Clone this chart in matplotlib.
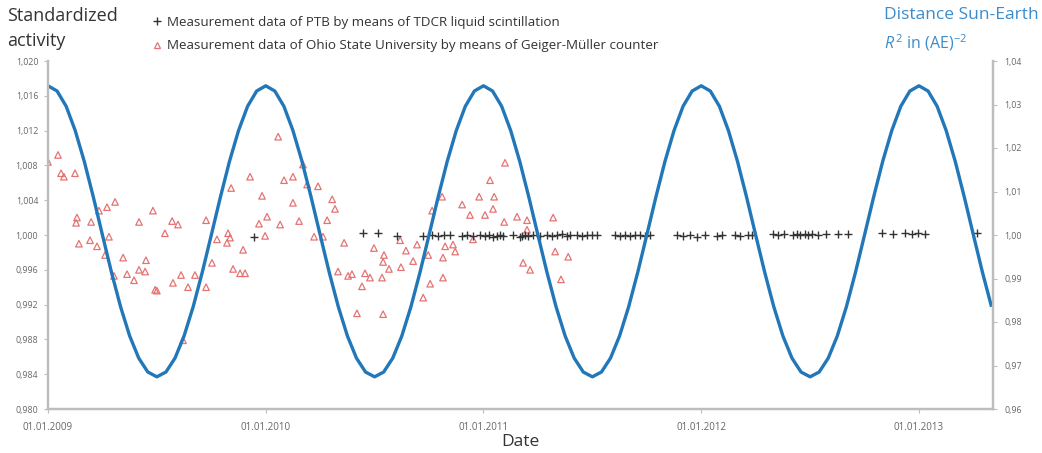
import numpy as np
import matplotlib
matplotlib.use("Agg")
import matplotlib.pyplot as plt
from matplotlib.lines import Line2D

plt.rcParams['font.family'] = ['Open Sans', 'DejaVu Sans']
plt.rcParams['mathtext.fontset'] = 'custom'
plt.rcParams['mathtext.rm'] = 'Open Sans'
plt.rcParams['mathtext.it'] = 'Open Sans:italic'

# ---------------- data ----------------
# Ohio State University, Geiger-Mueller counter (decimal year, standardized activity)
ohio_year = [2009.000, 2009.046, 2009.060, 2009.073, 2009.124, 2009.133, 2009.129, 2009.198,
             2009.142, 2009.193, 2009.225, 2009.234, 2009.271, 2009.308, 2009.280, 2009.262,
             2009.345, 2009.303, 2009.363, 2009.395, 2009.450, 2009.418, 2009.446, 2009.492,
             2009.500, 2009.482, 2009.418, 2009.537, 2009.570, 2009.597, 2009.574, 2009.611,
             2009.643, 2009.675, 2009.620, 2009.726, 2009.726,
             2010.057, 2009.928, 2009.841, 2010.084, 2010.125, 2010.190, 2010.240, 2010.171,
             2009.983, 2010.125, 2010.305, 2010.318, 2010.006, 2009.969, 2010.066, 2010.153,
             2010.282, 2009.997, 2009.827, 2009.822, 2009.836, 2009.776, 2009.896, 2009.753,
             2009.850, 2009.882, 2009.905, 2010.222, 2010.263, 2010.360, 2010.332, 2010.378,
             2010.396, 2010.456, 2010.442, 2010.419,
             2011.099, 2011.030, 2010.980, 2011.049, 2011.044, 2011.007, 2010.938, 2010.902,
             2010.810, 2010.764, 2011.095, 2011.154, 2011.200, 2011.200, 2010.497, 2010.543,
             2010.539, 2010.566, 2010.479, 2010.534, 2010.539, 2010.617, 2010.644, 2010.621,
             2010.677, 2010.695, 2010.824, 2010.860, 2010.870, 2010.814, 2010.814, 2010.755,
             2010.723, 2010.746, 2011.182, 2010.952,
             2011.320, 2011.329, 2011.389, 2011.214, 2011.356]
ohio_val = [1.0084, 1.0092, 1.0071, 1.0067, 1.0071, 1.0020, 1.0014, 1.0015,
            0.9990, 0.9994, 0.9987, 1.0028, 1.0032, 1.0038, 0.9998, 0.9977,
            0.9974, 0.9953, 0.9955, 0.9948, 0.9971, 0.9960, 0.9958, 0.9937,
            0.9936, 1.0028, 1.0015, 1.0002, 1.0016, 1.0012, 0.9945, 0.9954,
            0.9940, 0.9954, 0.9879, 1.0017, 0.9940,
            1.0113, 1.0067, 1.0054, 1.0063, 1.0067, 1.0058, 1.0056, 1.0081,
            1.0045, 1.0037, 1.0041, 1.0030, 1.0021, 1.0013, 1.0012, 1.0016,
            1.0017, 0.9999, 1.0002, 0.9991, 0.9997, 0.9995, 0.9983, 0.9968,
            0.9961, 0.9956, 0.9956, 0.9998, 0.9998, 0.9991, 0.9958, 0.9953,
            0.9955, 0.9956, 0.9941, 0.9910,
            1.0083, 1.0063, 1.0044, 1.0044, 1.0030, 1.0023, 1.0023, 1.0035,
            1.0044, 1.0028, 1.0015, 1.0021, 1.0017, 1.0006, 0.9985, 0.9977,
            0.9969, 0.9961, 0.9951, 0.9951, 0.9909, 0.9994, 0.9982, 0.9963,
            0.9970, 0.9989, 0.9987, 0.9989, 0.9981, 0.9974, 0.9951, 0.9944,
            0.9928, 0.9977, 0.9968, 0.9995,
            1.0020, 0.9981, 0.9975, 0.9960, 0.9949]

# PTB, TDCR liquid scintillation
ptb_year = [2009.946, 2010.447, 2010.516, 2010.603, 2010.723, 2010.764, 2010.791, 2010.819,
            2010.847, 2010.902, 2010.925, 2010.952, 2010.984, 2011.007, 2011.025, 2011.044,
            2011.062, 2011.076, 2011.090, 2011.136, 2011.168, 2011.177, 2011.191, 2011.205,
            2011.228, 2011.260, 2011.292, 2011.315, 2011.338, 2011.361, 2011.384, 2011.398,
            2011.430, 2011.453, 2011.476, 2011.499, 2011.522, 2011.605, 2011.627, 2011.650,
            2011.673, 2011.696, 2011.719, 2011.742, 2011.765, 2011.889, 2011.917, 2011.949,
            2011.981, 2012.018, 2012.073, 2012.096, 2012.156, 2012.179, 2012.215, 2012.234,
            2012.330, 2012.353, 2012.381, 2012.422, 2012.441, 2012.454, 2012.477, 2012.491,
            2012.509, 2012.537, 2012.574, 2012.629, 2012.675, 2012.831, 2012.881, 2012.937,
            2012.969, 2012.996, 2013.028, 2013.267]
ptb_val = [0.9998, 1.0002, 1.0002, 0.9999, 0.9999, 1.0000, 0.9999, 1.0000,
           1.0000, 0.9999, 1.0000, 0.9999, 1.0000, 0.9999, 1.0000, 0.9998,
           0.9999, 1.0000, 0.9999, 1.0000, 0.9998, 0.9999, 1.0000, 0.9999,
           1.0000, 0.9999, 1.0000, 0.9999, 1.0000, 1.0001, 0.9999, 1.0000,
           1.0000, 0.9999, 1.0000, 1.0000, 1.0000, 1.0000, 0.9999, 1.0000,
           0.9999, 1.0000, 1.0000, 0.9999, 1.0000, 1.0000, 0.9999, 1.0000,
           0.9998, 1.0000, 0.9999, 1.0000, 1.0000, 0.9999, 1.0000, 1.0000,
           1.0001, 1.0000, 1.0001, 1.0000, 1.0001, 1.0000, 1.0001, 1.0000,
           1.0001, 1.0000, 1.0001, 1.0001, 1.0001, 1.0002, 1.0001, 1.0002,
           1.0001, 1.0002, 1.0001, 1.0002]

# Distance Sun-Earth R^-2 in (AE)^-2, sampled every half month from 01.01.2009
sun_val = [1.0343, 1.0331, 1.0296, 1.0240, 1.0169, 1.0087, 1.0000, 0.9914, 0.9835, 0.9768, 0.9717, 0.9685,
           0.9674, 0.9685, 0.9717, 0.9768, 0.9835, 0.9914, 1.0000, 1.0087, 1.0169, 1.0240, 1.0296, 1.0331,
           1.0343, 1.0331, 1.0296, 1.0240, 1.0169, 1.0087, 1.0000, 0.9914, 0.9835, 0.9768, 0.9717, 0.9685,
           0.9674, 0.9685, 0.9717, 0.9768, 0.9835, 0.9914, 1.0000, 1.0087, 1.0169, 1.0240, 1.0296, 1.0331,
           1.0343, 1.0331, 1.0296, 1.0240, 1.0169, 1.0087, 1.0000, 0.9914, 0.9835, 0.9768, 0.9717, 0.9685,
           0.9674, 0.9685, 0.9717, 0.9768, 0.9835, 0.9914, 1.0000, 1.0087, 1.0169, 1.0240, 1.0296, 1.0331,
           1.0343, 1.0331, 1.0296, 1.0240, 1.0169, 1.0087, 1.0000, 0.9914, 0.9835, 0.9768, 0.9717, 0.9685,
           0.9674, 0.9685, 0.9717, 0.9768, 0.9835, 0.9914, 1.0000, 1.0087, 1.0169, 1.0240, 1.0296, 1.0331,
           1.0343, 1.0331, 1.0296, 1.0240, 1.0169, 1.0087, 1.0000, 0.9914, 0.9835]
sun_year = 2009.0 + np.arange(len(sun_val)) / 24.0

x_ticks = [2009, 2010, 2011, 2012, 2013]
x_labels = ["01.01.2009", "01.01.2010", "01.01.2011", "01.01.2012", "01.01.2013"]
left_ticks = [0.980, 0.984, 0.988, 0.992, 0.996, 1.000, 1.004, 1.008, 1.012, 1.016, 1.020]
right_ticks = [0.96, 0.97, 0.98, 0.99, 1.00, 1.01, 1.02, 1.03, 1.04]

# ---------------- styling ----------------
W, H = 1042, 453
BLUE = '#2277b8'
RED = '#e57373'
GRAY = '#bdbdbd'
TICKC = '#666666'

fig = plt.figure(figsize=(W / 100, H / 100), dpi=100)
ax = fig.add_axes([48 / W, 1 - 409 / H, (993 - 48) / W, (409 - 61) / H])
ax2 = ax.twinx()

ax.scatter(ohio_year, ohio_val, marker='^', s=22, facecolors='none', edgecolors=RED,
           linewidths=0.9, zorder=3)
ax.scatter(ptb_year, ptb_val, marker='+', s=30, color='#333333', linewidths=1.0, zorder=4)

ax2.plot(sun_year, sun_val, color=BLUE, lw=2.4, solid_capstyle='butt', solid_joinstyle='round')

ax.set_xlim(2009.0, 2013.34)
ax.set_ylim(0.980, 1.020)
ax2.set_ylim(0.96, 1.04)

ax.set_xticks(x_ticks)
ax.set_xticklabels(x_labels)
ax.set_yticks(left_ticks)
ax.set_yticklabels([f"{v:.3f}".replace('.', ',') for v in left_ticks])
ax2.set_yticks(right_ticks)
ax2.set_yticklabels([f"{v:.2f}".replace('.', ',') for v in right_ticks])

for a in (ax, ax2):
    a.spines['top'].set_visible(False)
    for s in ('left', 'right', 'bottom'):
        a.spines[s].set_color(GRAY)
        a.spines[s].set_linewidth(1.6)
ax.tick_params(axis='y', length=3, width=0.8, color=GRAY, labelsize=6.3, labelcolor=TICKC, pad=4)
ax2.tick_params(axis='y', length=3, width=0.8, color=GRAY, labelsize=6.3, labelcolor=TICKC, pad=5)
ax.tick_params(axis='x', length=3, width=0.8, color=GRAY, labelsize=7, labelcolor=TICKC, pad=6)

ax.set_xlabel("Date", fontsize=12.5, color='#333333', labelpad=1)

# titles
fig.text(7 / W, 1 - 7 / H, "Standardized\nactivity", fontsize=13, color='#333333',
         ha='left', va='top', linespacing=1.5)
fig.text(884 / W, 1 - 7 / H, "Distance Sun-Earth", fontsize=12.5, color='#3b8ccc',
         ha='left', va='top')
fig.text(884 / W, 1 - 32 / H, r"$\mathit{R}^{\,2}$ in (AE)$^{-2}$", fontsize=11.5, color='#3b8ccc',
         ha='left', va='top')

handles = [Line2D([], [], marker='+', ls='none', color='#333333', markersize=6, mew=1.0),
           Line2D([], [], marker='^', ls='none', markerfacecolor='none', markeredgecolor=RED,
                  markersize=4.5, mew=0.9)]
labels = ["Measurement data of PTB by means of TDCR liquid scintillation",
          "Measurement data of Ohio State University by means of Geiger-Müller counter"]
leg = fig.legend(handles, labels, loc='upper left', bbox_to_anchor=(146 / W, 1 - 9 / H),
                 bbox_transform=fig.transFigure, frameon=False, fontsize=9.6,
                 handlelength=0.6, handletextpad=0.5, labelspacing=0.8, borderpad=0)
for t in leg.get_texts():
    t.set_color('#333333')

fig.savefig("out.png", dpi=100)
